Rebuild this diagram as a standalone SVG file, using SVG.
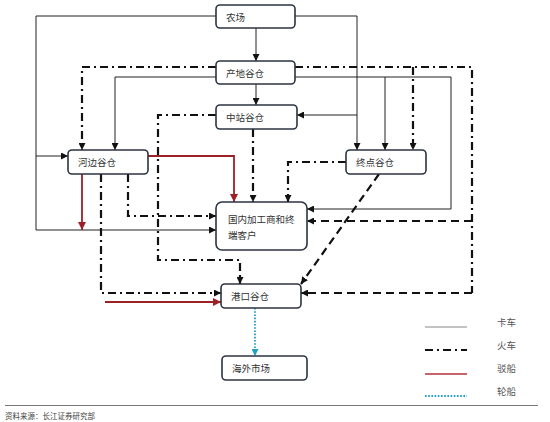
<svg xmlns="http://www.w3.org/2000/svg" width="550" height="422" viewBox="0 0 550 422">
<style>
.box{fill:#fff;stroke:#2b3443;stroke-width:1.6}
.lbl{font-family:"Noto Sans CJK SC","Liberation Sans",sans-serif;font-size:9.5px;fill:#333;dominant-baseline:central}
.leg{font-family:"Noto Sans CJK SC","Liberation Sans",sans-serif;font-size:9.5px;fill:#555;dominant-baseline:central}
.truck{fill:none;stroke:#222;stroke-width:1}
.train{fill:none;stroke:#111;stroke-width:2.2;stroke-dasharray:8 4 2 4}
.dash{fill:none;stroke:#111;stroke-width:2.2;stroke-dasharray:8 5}
.barge{fill:none;stroke:#9b2127;stroke-width:1.8}
.ship{fill:none;stroke:#1e9fc4;stroke-width:1.8;stroke-dasharray:1.6 1.6}
</style>
<defs>
<marker id="ak" viewBox="0 0 10 10" refX="10" refY="5" markerWidth="7" markerHeight="7" markerUnits="userSpaceOnUse" orient="auto"><path d="M0,0 L10,5 L0,10 z" fill="#111" stroke="none"/></marker>
<marker id="ar" viewBox="0 0 10 10" refX="10" refY="5" markerWidth="8" markerHeight="8" markerUnits="userSpaceOnUse" orient="auto"><path d="M0,0 L10,5 L0,10 z" fill="#9b2127" stroke="none"/></marker>
<marker id="at" viewBox="0 0 10 10" refX="10" refY="5" markerWidth="7" markerHeight="7" markerUnits="userSpaceOnUse" orient="auto"><path d="M0,0 L10,5 L0,10 z" fill="#1e9fc4" stroke="none"/></marker>
</defs>
<rect width="550" height="422" fill="#fff"/>
<g id="connectors">
<path class="truck" d="M216,16 H36 V230 H216" marker-end="url(#ak)"/>
<path class="truck" d="M36,156 H68" marker-end="url(#ak)"/>
<path class="truck" d="M295,16 H357 V150" marker-end="url(#ak)"/>
<path class="truck" d="M357,115 H297" marker-end="url(#ak)"/>
<path class="truck" d="M256,28 V61" marker-end="url(#ak)"/>
<path class="truck" d="M256,84 V105" marker-end="url(#ak)"/>
<path class="truck" d="M216,77 H115 V150" marker-end="url(#ak)"/>
<path class="truck" d="M295,77 H451 V209 H307" marker-end="url(#ak)"/>
<path class="truck" d="M385,77 V150" marker-end="url(#ak)"/>
<path class="train" d="M216,67 H82 V150" marker-end="url(#ak)"/>
<path class="train" d="M295,67 H472 V293"/>
<path class="train" d="M413,67 V150" marker-end="url(#ak)"/>
<path class="train" d="M216,115 H158 V260 H240 V284" marker-end="url(#ak)"/>
<path class="train" d="M253,129 V202" marker-end="url(#ak)"/>
<path class="train" d="M101,174 V293 H221" marker-end="url(#ak)"/>
<path class="train" d="M128,174 V216 H216" marker-end="url(#ak)"/>
<path class="train" d="M346,162 H288 V202" marker-end="url(#ak)"/>
<path class="dash" d="M472,221 H307" marker-end="url(#ak)"/>
<path class="dash" d="M472,293 H301" marker-end="url(#ak)"/>
<path class="dash" d="M379,174 L301,284" marker-end="url(#ak)"/>
<path class="barge" d="M148,156 H234 V202" marker-end="url(#ar)"/>
<path class="barge" d="M82,174 V230" marker-end="url(#ar)"/>
<path class="barge" d="M105,302 H221" marker-end="url(#ar)"/>
<path class="ship" d="M255,308 V356" marker-end="url(#at)"/>
</g>
<g id="farm"><rect class="box" x="216" y="5" width="79" height="23" rx="4"/><text class="lbl" x="226" y="16.5">农场</text></g>
<g id="origin"><rect class="box" x="216" y="61" width="79" height="23" rx="4"/><text class="lbl" x="226" y="72.5">产地谷仓</text></g>
<g id="transit"><rect class="box" x="216" y="105" width="81" height="24" rx="4"/><text class="lbl" x="226" y="117">中站谷仓</text></g>
<g id="river"><rect class="box" x="68" y="150" width="80" height="24" rx="4"/><text class="lbl" x="78" y="162">河边谷仓</text></g>
<g id="terminal"><rect class="box" x="346" y="150" width="80" height="24" rx="4"/><text class="lbl" x="356" y="162">终点谷仓</text></g>
<g id="domestic"><rect class="box" x="216" y="202" width="91" height="48" rx="6"/><text class="lbl" x="228" y="219">国内加工商和终</text><text class="lbl" x="228" y="235">端客户</text></g>
<g id="port"><rect class="box" x="221" y="284" width="80" height="24" rx="4"/><text class="lbl" x="231" y="296">港口谷仓</text></g>
<g id="overseas"><rect class="box" x="222" y="356" width="85" height="24" rx="4"/><text class="lbl" x="232" y="368">海外市场</text></g>
<g id="legend">
<line x1="425" y1="327" x2="467" y2="327" stroke="#888" stroke-width="1.2"/>
<line x1="425" y1="350" x2="467" y2="350" class="train" stroke-dasharray="2 5 8 5"/>
<line x1="425" y1="374" x2="467" y2="374" stroke="#b0303a" stroke-width="1.6"/>
<line x1="425" y1="396" x2="467" y2="396" class="ship" stroke-width="1.2"/>
<text class="leg" x="497" y="322">卡车</text>
<text class="leg" x="497" y="345">火车</text>
<text class="leg" x="497" y="368">驳船</text>
<text class="leg" x="497" y="391">轮船</text>
</g>
<line x1="5" y1="405.5" x2="538" y2="405.5" stroke="#777" stroke-width="1.2"/>
<text x="5" y="415" font-family="Noto Sans CJK SC, Liberation Sans, sans-serif" font-size="7.5" fill="#444" dominant-baseline="central">资料来源：长江证券研究部</text>
</svg>
